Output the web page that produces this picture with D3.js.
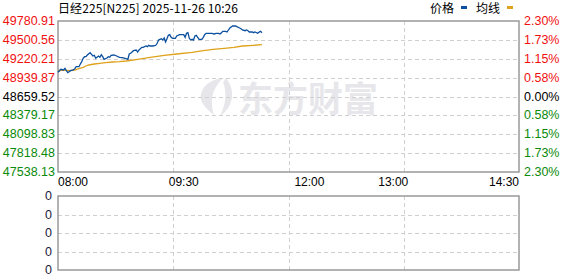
<!DOCTYPE html>
<html>
<head>
<meta charset="utf-8">
<script src="https://cdn.jsdelivr.net/npm/d3@7"></script>
<style>
  html, body { margin: 0; padding: 0; background: #fff; }
  svg { display: block; }
</style>
</head>
<body>
<div id="chart"></div>
<script>
// 日经225 intraday (minute) — price line + average line, empty volume pane
const TITLE = '日经225[N225] 2025-11-26 10:26';
const PREV_CLOSE = 48659.52;

const priceTimes = [
  '08:00','08:02','08:04','08:05','08:06','08:07','08:09','08:11','08:12','08:13',
  '08:15','08:16','08:17','08:18','08:19','08:20','08:21','08:23','08:24','08:25',
  '08:26','08:27','08:29','08:30','08:31','08:32','08:33','08:35','08:36','08:37',
  '08:38','08:40','08:42','08:44','08:46','08:48','08:50','08:51','08:52','08:53',
  '08:54','08:56','08:57','08:58','09:00','09:01','09:02','09:03','09:04','09:05',
  '09:06','09:08','09:10','09:11','09:12','09:13','09:14','09:15','09:16','09:17',
  '09:18','09:19','09:20','09:21','09:22','09:23','09:24','09:25','09:27','09:28',
  '09:30','09:31','09:32','09:33','09:34','09:35','09:36','09:37','09:38','09:39',
  '09:40','09:41','09:43','09:44','09:45','09:46','09:48','09:50','09:52','09:53',
  '09:55','09:56','09:57','09:58','10:00','10:01','10:02','10:03','10:05','10:07',
  '10:08','10:10','10:11','10:12','10:14','10:15','10:16','10:17','10:18','10:19',
  '10:20','10:21','10:23','10:24','10:25','10:26'
];
const priceValues = [
  49018.9, 49063.5, 49053.1, 49078.4, 49042.7, 49013.0, 49042.7, 49053.1, 49072.4, 49102.1,
  49102.1, 49142.2, 49176.4, 49226.9, 49250.6, 49250.6, 49275.9, 49310.1, 49286.3, 49261.0,
  49271.4, 49226.9, 49261.0, 49241.7, 49280.4, 49250.6, 49212.0, 49231.3, 49250.6, 49241.7,
  49271.4, 49275.9, 49261.0, 49241.7, 49235.8, 49226.9, 49212.0, 49290.8, 49301.1, 49320.5,
  49339.8, 49350.2, 49320.5, 49350.2, 49390.3, 49390.3, 49399.2, 49409.6, 49399.2, 49420.0,
  49409.6, 49409.6, 49420.0, 49449.7, 49498.7, 49509.1, 49518.0, 49498.7, 49528.4, 49469.0,
  49518.0, 49568.5, 49577.4, 49538.8, 49523.9, 49523.9, 49523.9, 49558.1, 49577.4, 49577.4,
  49577.4, 49538.8, 49598.2, 49607.1, 49523.9, 49498.7, 49509.1, 49498.7, 49558.1, 49568.5,
  49538.8, 49509.1, 49509.1, 49538.8, 49577.4, 49598.2, 49598.2, 49598.2, 49587.8, 49598.2,
  49598.2, 49587.8, 49607.1, 49627.9, 49627.9, 49617.5, 49647.2, 49676.9, 49706.6, 49706.6,
  49696.2, 49676.9, 49666.5, 49647.2, 49636.8, 49647.2, 49636.8, 49617.5, 49617.5, 49617.5,
  49607.1, 49617.5, 49598.2, 49617.5, 49627.9, 49607.1
];

const avgTimes = [
  '08:00','08:03','08:08','08:12','08:15','08:18','08:20','08:22','08:26','08:30',
  '08:34','08:39','08:44','08:49','08:57','09:06','09:16','09:25','09:36','09:44',
  '09:51','09:59','10:06','10:12','10:20','10:26'
];
const avgValues = [
  49038.3, 49053.1, 49042.7, 49053.1, 49072.4, 49093.2, 49112.5, 49127.4, 49142.2, 49152.6,
  49161.5, 49171.9, 49176.4, 49186.8, 49212.0, 49241.7, 49271.4, 49290.8, 49316.0, 49339.8,
  49360.6, 49375.4, 49390.3, 49409.6, 49420.0, 49428.9
];

const priceTicks = ['49780.91','49500.56','49220.21','48939.87','48659.52','48379.17','48098.83','47818.48','47538.13'];
const pctTicks = ['2.30%','1.73%','1.15%','0.58%','0.00%','0.58%','1.15%','1.73%','2.30%'];
const timeTicks = ['08:00','09:30','12:00','13:00','14:30'];
const volTicks = ['0','0','0','0','0'];

const W = 578, H = 276;
const BOX = { left: 58, right: 519, top: 21, bottom: 172 };
const VOL = { top: 196, bottom: 270 };
const FONT = '"Liberation Sans", Arial, sans-serif';
const CJK = '"Noto Sans CJK SC", sans-serif';
const RED = '#f01010', GREEN = '#0a8a0a', BLUE = '#0b4f9f', ORANGE = '#dfa21d';

// minutes of trading since 08:00, lunch break 10:30-11:30 removed
function sessionMin(t) {
  const [h, m] = t.split(':').map(Number);
  let v = (h - 8) * 60 + m;
  if (v >= 210) v -= 60;
  return v;
}

const svg = d3.select('#chart').append('svg')
  .attr('width', W).attr('height', H)
  .attr('viewBox', `0 0 ${W} ${H}`);

const x = d3.scaleLinear().domain([0, 330]).range([BOX.left, BOX.right]);
const y = d3.scaleLinear().domain([+priceTicks[8], +priceTicks[0]]).range([BOX.bottom, BOX.top]);
const yVol = d3.scaleLinear().domain([0, 4]).range([VOL.top, VOL.bottom]);

// watermark
const wm = svg.append('g').attr('fill', '#e7e7eb');
wm.append('path').attr('d', 'M201,94 C203,85 212,79 223,78 C214,87 209,98 214,115 C205,108 199,101 201,94 Z');
wm.append('path').attr('d', 'M226,78 C235,89 235,106 220,116 C226,104 227,92 223,82 Z');
wm.append('text').attr('x', 238).attr('y', 112)
  .style('font-family', CJK).style('font-size', '35px').style('font-weight', 700)
  .text('东方财富');

function grid(top, bottom, yLines) {
  const g = svg.append('g').attr('stroke', '#d0d0d0').attr('stroke-dasharray', '4,3').attr('stroke-width', 1);
  yLines.forEach(v => {
    g.append('line').attr('x1', BOX.left).attr('x2', BOX.right)
      .attr('y1', Math.round(v) + 0.5).attr('y2', Math.round(v) + 0.5);
  });
  [82.5, 165, 247.5].forEach(m => {
    g.append('line').attr('x1', Math.round(x(m)) + 0.5).attr('x2', Math.round(x(m)) + 0.5)
      .attr('y1', top).attr('y2', bottom);
  });
  svg.append('rect')
    .attr('x', BOX.left).attr('y', top)
    .attr('width', BOX.right - BOX.left).attr('height', bottom - top)
    .attr('fill', 'none').attr('stroke', '#999').attr('stroke-width', 1.5);
}

grid(BOX.top, BOX.bottom, priceTicks.slice(1, 8).map(d => y(+d)));
grid(VOL.top, VOL.bottom, [1, 2, 3].map(yVol));

const tickColor = i => i < 4 ? RED : (i === 4 ? '#000' : GREEN);

// left price labels
svg.append('g').selectAll('text').data(priceTicks).join('text')
  .attr('x', 55).attr('y', d => y(+d))
  .attr('text-anchor', 'end').attr('dominant-baseline', 'central')
  .style('font-family', FONT).style('font-size', '12.5px')
  .attr('fill', (d, i) => tickColor(i))
  .text(d => d);

// right percent labels
svg.append('g').selectAll('text').data(pctTicks).join('text')
  .attr('x', 524).attr('y', (d, i) => y(+priceTicks[i]))
  .attr('dominant-baseline', 'central')
  .style('font-family', FONT).style('font-size', '12.5px')
  .attr('fill', (d, i) => tickColor(i))
  .text(d => d);

// time labels
svg.append('g').selectAll('text').data(timeTicks).join('text')
  .attr('x', d => x(sessionMin(d)))
  .attr('y', 186)
  .attr('text-anchor', (d, i) => i === 0 ? 'start' : (i === timeTicks.length - 1 ? 'end' : 'middle'))
  .style('font-family', FONT).style('font-size', '12px')
  .attr('fill', '#000')
  .text(d => d);

// volume labels
svg.append('g').selectAll('text').data(volTicks).join('text')
  .attr('x', 52).attr('y', (d, i) => yVol(i))
  .attr('text-anchor', 'end').attr('dominant-baseline', 'central')
  .style('font-family', FONT).style('font-size', '12.5px')
  .attr('fill', '#1a1a3a')
  .text(d => d);

// lines
const line = d3.line().x(d => x(sessionMin(d[0]))).y(d => y(d[1]));
svg.append('path')
  .datum(d3.zip(avgTimes, avgValues))
  .attr('d', line).attr('fill', 'none').attr('stroke', ORANGE).attr('stroke-width', 1.3);
svg.append('path')
  .datum(d3.zip(priceTimes, priceValues))
  .attr('d', line).attr('fill', 'none').attr('stroke', BLUE).attr('stroke-width', 1.3);

// title
svg.append('text').attr('x', 58).attr('y', 13)
  .attr('textLength', 180).attr('lengthAdjust', 'spacing')
  .style('font-family', CJK).style('font-size', '12px').attr('fill', '#000')
  .text(TITLE);

// legend
const legend = [['价格', BLUE, 430], ['均线', ORANGE, 476]];
legend.forEach(([label, color, lx]) => {
  svg.append('text').attr('x', lx).attr('y', 13)
    .style('font-family', CJK).style('font-size', '12px').attr('fill', '#000')
    .text(label);
  svg.append('rect').attr('x', lx + 31).attr('y', 6).attr('width', 6).attr('height', 3).attr('fill', color);
});
</script>
</body>
</html>
